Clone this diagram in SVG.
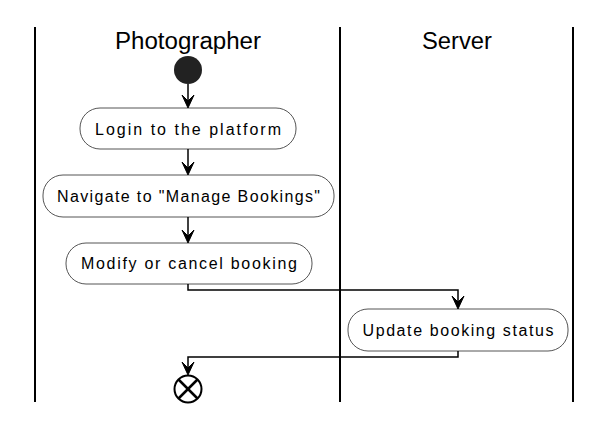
<svg xmlns="http://www.w3.org/2000/svg" width="616" height="429" viewBox="0 0 616 429">
<style>
.lane{stroke:#000;stroke-width:2;fill:none}
.act{fill:#fff;stroke:#555;stroke-width:1}
.t{font-family:"Liberation Sans",Arial,sans-serif;font-size:16px;fill:#000;text-anchor:middle}
.h{font-family:"Liberation Sans",Arial,sans-serif;font-size:23px;fill:#000;text-anchor:middle}
.c{stroke:#000;stroke-width:1.5;fill:none}
.ah{fill:#000;stroke:#000;stroke-width:1}
</style>
<rect width="616" height="429" fill="#fff"/>
<g id="lanes">
<line class="lane" x1="35" y1="27" x2="35" y2="402"/>
<line class="lane" x1="340" y1="27" x2="340" y2="402"/>
<line class="lane" x1="573" y1="27" x2="573" y2="402"/>
<text class="h" x="188" y="49" textLength="146" lengthAdjust="spacingAndGlyphs">Photographer</text>
<text class="h" x="457" y="49" textLength="70" lengthAdjust="spacingAndGlyphs">Server</text>
</g>
<g id="start"><circle cx="188" cy="70" r="14" fill="#222"/></g>
<g id="login">
<rect class="act" x="80" y="108" width="216" height="41" rx="20"/>
<text class="t" x="188" y="135" textLength="186" lengthAdjust="spacing">Login to the platform</text>
</g>
<g id="navigate">
<rect class="act" x="43" y="175" width="291" height="42" rx="20"/>
<text class="t" x="188.5" y="202" textLength="263" lengthAdjust="spacing">Navigate to "Manage Bookings"</text>
</g>
<g id="modify">
<rect class="act" x="66" y="243" width="246" height="41" rx="20"/>
<text class="t" x="189" y="269" textLength="216" lengthAdjust="spacing">Modify or cancel booking</text>
</g>
<g id="update">
<rect class="act" x="348" y="309" width="220" height="42" rx="20"/>
<text class="t" x="458" y="336" textLength="191" lengthAdjust="spacing">Update booking status</text>
</g>
<g id="end">
<circle cx="188" cy="389" r="13.5" fill="#fff" stroke="#000" stroke-width="2"/>
<line x1="178.5" y1="379.5" x2="197.5" y2="398.5" stroke="#000" stroke-width="2.5"/>
<line x1="197.5" y1="379.5" x2="178.5" y2="398.5" stroke="#000" stroke-width="2.5"/>
</g>
<g id="connectors">
<path class="c" d="M188 84 V106"/>
<polygon class="ah" points="182,95 188,108 194,95 188,101"/>
<path class="c" d="M188 149 V173"/>
<polygon class="ah" points="182,162 188,175 194,162 188,168"/>
<path class="c" d="M188 217 V241"/>
<polygon class="ah" points="182,230 188,243 194,230 188,236"/>
<path class="c" d="M188 284 V290 H458 V307"/>
<polygon class="ah" points="452,296 458,309 464,296 458,302"/>
<path class="c" d="M458 351 V357 H188 V373"/>
<polygon class="ah" points="182,362 188,375 194,362 188,368"/>
</g>
</svg>
